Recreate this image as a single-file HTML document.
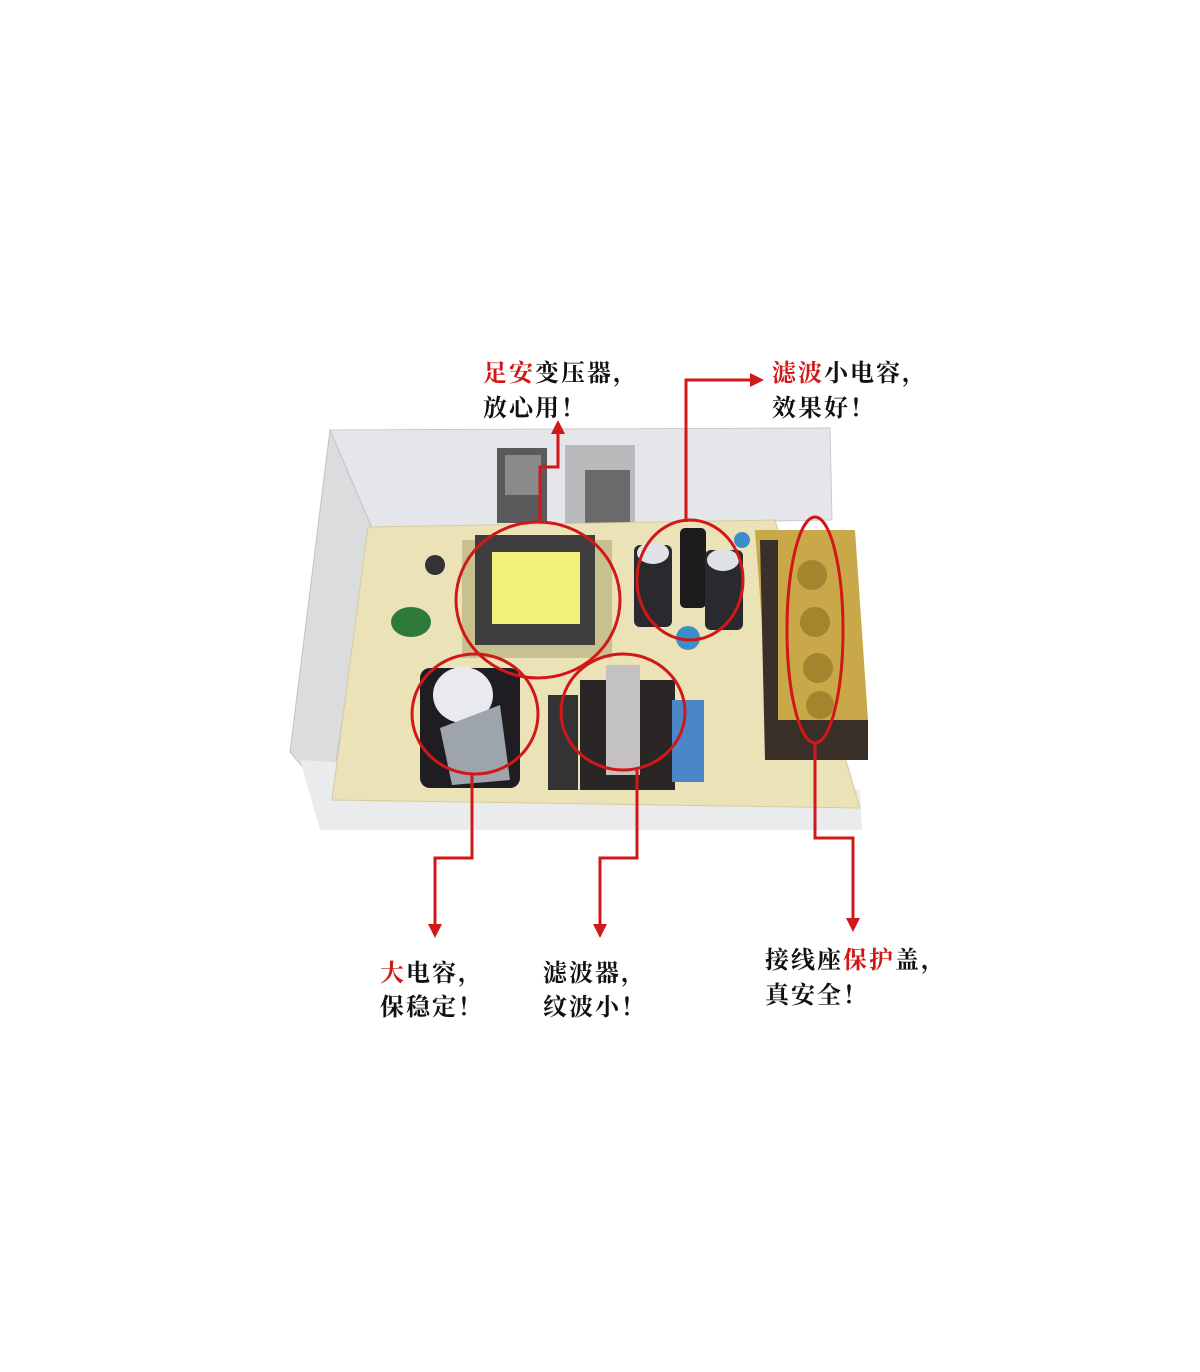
<!DOCTYPE html>
<html><head><meta charset="utf-8"><style>
html,body{margin:0;padding:0;background:#fff;}
.t{position:absolute;font-family:"Liberation Serif","Noto Serif CJK SC",serif;font-weight:bold;font-size:24px;color:#111;letter-spacing:2px;white-space:nowrap;}
.r{color:#d01818;}
</style></head><body>
<div style="position:relative;width:1200px;height:1372px;overflow:hidden;">
<svg width="1200" height="1372" style="position:absolute;left:0;top:0">
<!-- chassis -->
<polygon points="330,430 830,428 832,520 345,528" fill="#e4e6ea" stroke="#c8cacd"/>
<polygon points="330,430 372,528 330,800 290,752" fill="#dadcde" stroke="#c0c2c4"/>
<polygon points="300,760 860,790 862,830 320,830" fill="#e9ebec"/>
<!-- heatsink parts -->
<rect x="497" y="448" width="50" height="75" fill="#5a5a5c"/>
<rect x="505" y="455" width="36" height="40" fill="#8a8a8c"/>
<rect x="565" y="445" width="70" height="90" fill="#b9babc"/>
<rect x="585" y="470" width="45" height="55" fill="#6a6a6c"/>
<!-- PCB -->
<polygon points="368,527 775,520 860,808 332,800" fill="#ece2b8" stroke="#d6cba0"/>
<!-- transformer -->
<rect x="462" y="540" width="150" height="118" fill="#c9c090"/>
<rect x="475" y="535" width="120" height="110" fill="#3e3e40"/>
<rect x="492" y="552" width="88" height="72" fill="#f2f07a"/>
<!-- small caps -->
<rect x="634" y="545" width="38" height="82" rx="6" fill="#2a2a2e"/>
<ellipse cx="653" cy="553" rx="16" ry="11" fill="#dfe3e8"/>
<rect x="680" y="528" width="26" height="80" rx="5" fill="#1c1c1e"/>
<rect x="705" y="550" width="38" height="80" rx="6" fill="#2a2a2e"/>
<ellipse cx="723" cy="560" rx="16" ry="11" fill="#dfe3e8"/>
<circle cx="688" cy="638" r="12" fill="#3a8fc8"/>
<circle cx="742" cy="540" r="8" fill="#3a8fc8"/>
<ellipse cx="411" cy="622" rx="20" ry="15" fill="#2e7a3a"/>
<circle cx="435" cy="565" r="10" fill="#333"/>
<!-- big cap -->
<rect x="420" y="668" width="100" height="120" rx="10" fill="#1e1e22"/>
<ellipse cx="463" cy="695" rx="30" ry="28" fill="#e8eaee"/>
<polygon points="440,728 500,705 510,780 452,785" fill="#9ea4ac"/>
<!-- filter -->
<rect x="548" y="695" width="30" height="95" fill="#333"/>
<rect x="580" y="680" width="95" height="110" fill="#2a2626"/>
<rect x="606" y="665" width="34" height="110" fill="#c4c2c0"/>
<rect x="672" y="700" width="32" height="82" fill="#4d86c6"/>
<!-- terminal block -->
<polygon points="755,530 855,530 868,720 770,730" fill="#c9a84a"/>
<polygon points="770,720 868,720 868,760 775,760" fill="#3a2f28"/>
<polygon points="760,540 778,540 778,760 765,760" fill="#3a302a"/>
<g fill="#a5842e"><circle cx="812" cy="575" r="15"/><circle cx="815" cy="622" r="15"/><circle cx="818" cy="668" r="15"/><circle cx="820" cy="705" r="14"/></g>
<!-- red circles -->
<g fill="none" stroke="#d01818" stroke-width="3">
<ellipse cx="538" cy="600" rx="82" ry="78"/>
<ellipse cx="690" cy="580" rx="53" ry="60"/>
<ellipse cx="475" cy="714" rx="63" ry="60"/>
<ellipse cx="623" cy="712" rx="62" ry="58"/>
<ellipse cx="815" cy="630" rx="28" ry="113"/>
<polyline points="540,522 540,467 558,467 558,430"/>
<polyline points="686,522 686,380 755,380"/>
<polyline points="472,774 472,858 435,858 435,928"/>
<polyline points="637,770 637,858 600,858 600,928"/>
<polyline points="815,743 815,838 853,838 853,922"/>
</g>
<g fill="#d01818">
<polygon points="558,420 551,434 565,434"/>
<polygon points="764,380 750,373 750,387"/>
<polygon points="435,938 428,924 442,924"/>
<polygon points="600,938 593,924 607,924"/>
<polygon points="853,932 846,918 860,918"/>
</g>
</svg>
<div class="t" style="left:483px;top:353px"><span class="r">足安</span>变压器，</div>
<div class="t" style="left:483px;top:388px">放心用！</div>
<div class="t" style="left:772px;top:353px"><span class="r">滤波</span>小电容，</div>
<div class="t" style="left:772px;top:388px">效果好！</div>
<div class="t" style="left:380px;top:953px"><span class="r">大</span>电容，</div>
<div class="t" style="left:380px;top:987px">保稳定！</div>
<div class="t" style="left:543px;top:953px">滤波器，</div>
<div class="t" style="left:543px;top:987px">纹波小！</div>
<div class="t" style="left:765px;top:940px">接线座<span class="r">保护</span>盖，</div>
<div class="t" style="left:765px;top:975px">真安全！</div>
</div>
</body></html>
